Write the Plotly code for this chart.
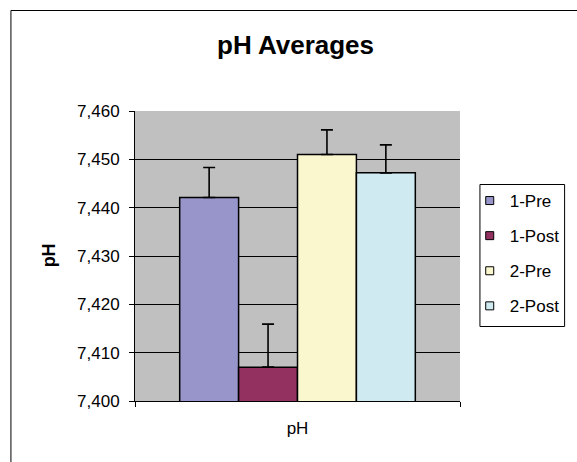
import plotly.graph_objects as go

# Mean pH per group with the upper standard-deviation whisker
category = ["pH"]
groups = ["1-Pre", "1-Post", "2-Pre", "2-Post"]
means = [7.4421, 7.4070, 7.4510, 7.4472]
errors = [0.0062, 0.0089, 0.0051, 0.0058]
colors = ["#9795C9", "#933160", "#FAF7CF", "#CFEAF0"]
y_ticks = [7.400, 7.410, 7.420, 7.430, 7.440, 7.450, 7.460]

W, H = 577, 462
L, R, T, B = 135, 108, 111, 61
pw, ph = W - L - R, H - T - B


def px_x(x):
    return (x - L) / pw


def px_y(y):
    return (H - B - y) / ph


FONT = "Liberation Sans, Arial, sans-serif"
TXT = 17

fig = go.Figure()
for name, m, e, c in zip(groups, means, errors, colors):
    fig.add_trace(go.Bar(
        x=category, y=[m], name=name, showlegend=False,
        marker=dict(color=c, line=dict(color="black", width=1.5)),
        error_y=dict(type="data", symmetric=False, array=[e], arrayminus=[0],
                     color="black", thickness=1.6, width=6),
    ))

# Legend keys: small outlined squares
for name, c in zip(groups, colors):
    fig.add_trace(go.Scatter(
        x=[None], y=[None], mode="markers", name=name, legendgroup=name,
        marker=dict(symbol="square", size=8, color=c,
                    line=dict(color="black", width=1)),
    ))

fig.update_layout(
    width=W, height=H,
    margin=dict(l=L, r=R, t=T, b=B),
    paper_bgcolor="white",
    plot_bgcolor="#C0C0C0",
    separators=",.",
    font=dict(family=FONT, size=TXT, color="black"),
    barmode="group",
    bargap=0.275,
    bargroupgap=0,
    showlegend=True,
    legend=dict(
        x=px_x(479), y=px_y(183), xanchor="left", yanchor="top",
        bgcolor="rgba(0,0,0,0)", borderwidth=0,
        font=dict(family=FONT, size=TXT, color="black"),
        tracegroupgap=10, traceorder="grouped",
        itemwidth=30,
    ),
    xaxis=dict(
        showline=True, linecolor="black", linewidth=1,
        ticks="outside", ticklen=5, tickcolor="black", tickson="boundaries",
        ticklabelstandoff=12,
        tickfont=dict(family=FONT, size=TXT, color="black"),
        showgrid=False, zeroline=False,
    ),
    yaxis=dict(
        range=[y_ticks[0], y_ticks[-1]],
        tickvals=y_ticks, tickformat=".3f",
        showline=True, linecolor="black", linewidth=1,
        ticks="outside", ticklen=5, tickcolor="black",
        ticklabelstandoff=6,
        tickfont=dict(family=FONT, size=TXT, color="black"),
        showgrid=True, gridcolor="black", gridwidth=1,
        zeroline=False,
    ),
    shapes=[
        # chart frame
        dict(type="rect", xref="paper", yref="paper",
             x0=px_x(7.5), x1=px_x(620), y0=px_y(10.5), y1=px_y(500),
             line=dict(color="black", width=1), fillcolor="rgba(0,0,0,0)",
             layer="below"),
        # legend box
        dict(type="rect", xref="paper", yref="paper",
             x0=px_x(489.5), x1=px_x(576.5), y0=px_y(184.5), y1=px_y(326.5),
             line=dict(color="black", width=1), fillcolor="white",
             layer="above"),
    ],
    annotations=[
        dict(text="<b>pH Averages</b>", xref="paper", yref="paper",
             x=px_x(300), y=px_y(45), showarrow=False,
             xanchor="center", yanchor="middle",
             font=dict(family=FONT, size=26, color="black")),
        dict(text="<b>pH</b>", xref="paper", yref="paper",
             x=px_x(47), y=px_y(255), showarrow=False, textangle=-90,
             xanchor="center", yanchor="middle",
             font=dict(family=FONT, size=18, color="black")),
    ],
)

fig.write_html("out.html")
